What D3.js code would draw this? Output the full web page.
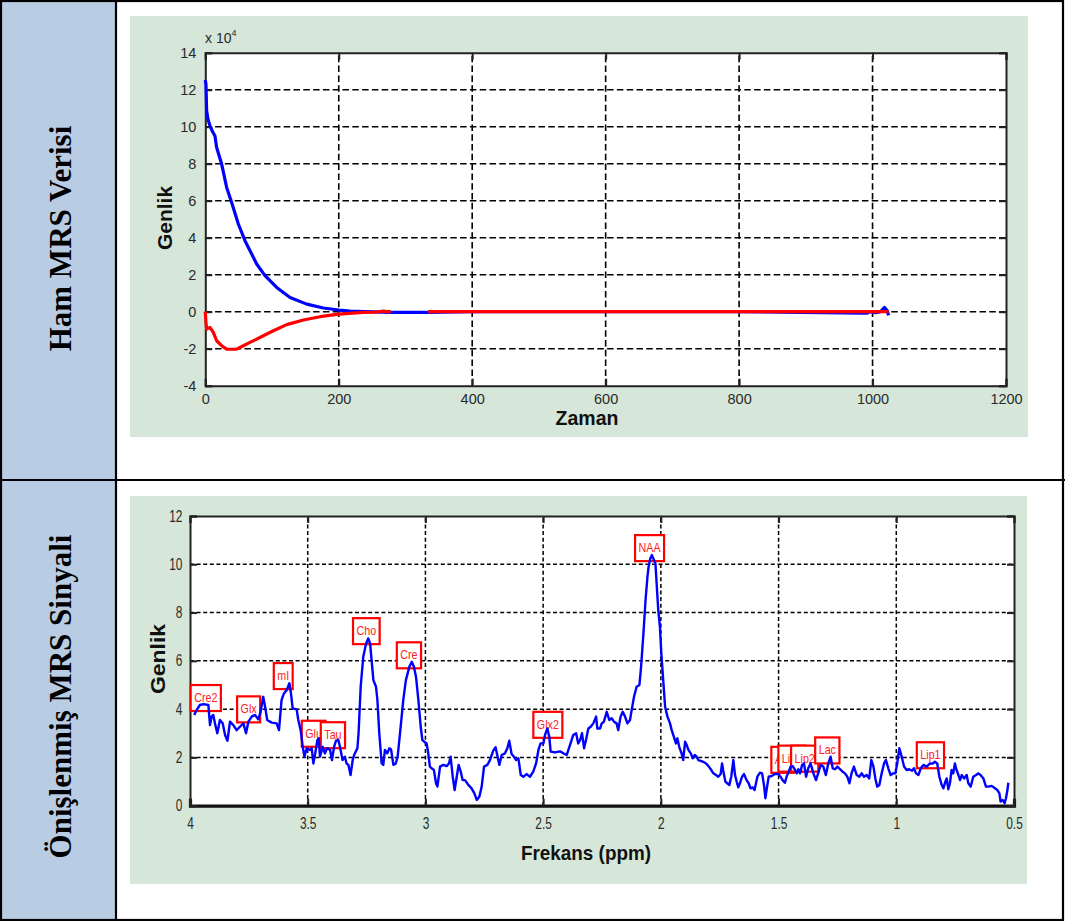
<!DOCTYPE html>
<html>
<head>
<meta charset="utf-8">
<script src="https://cdn.jsdelivr.net/npm/d3@7"></script>
<style>
  html, body { margin: 0; padding: 0; background: #ffffff; }
  svg { display: block; }
</style>
</head>
<body>
<svg id="fig" width="1065" height="921"></svg>
<script>
// ---------- Raw FID (time domain), amplitude in units of 10^4 ----------
const fidRealTime = [0, 1, 2, 4, 7, 10, 14.5, 17, 24.5, 32, 39.5, 49.5, 59.5, 77, 89.5, 107, 127, 152, 177, 200, 217, 240, 278, 334, 400, 600, 800, 985, 992, 995, 1005, 1012, 1018, 1022, 1024];
const fidRealAmp  = [12.52, 12.3, 10.86, 10.4, 10.05, 9.8, 9.5, 8.88, 7.98, 6.72, 5.9, 4.74, 3.84, 2.58, 1.95, 1.31, 0.77, 0.41, 0.2, 0.09, 0.03, 0.0, -0.04, -0.04, 0, 0, 0, -0.08, -0.08, 0, -0.05, 0, 0.23, 0.05, -0.2];
const fidImagTime = [0, 0.5, 1, 2, 4, 7, 12, 17, 24.5, 32, 40, 47, 57, 67, 87, 102, 122, 147, 172, 200, 237, 255, 262, 267, 272, 278, 300, 334, 500, 800, 1024];
const fidImagAmp  = [0, -0.3, -0.58, -0.94, -0.9, -0.85, -1.12, -1.57, -1.84, -2.02, -2.03, -2.02, -1.84, -1.66, -1.3, -1.03, -0.7, -0.45, -0.27, -0.13, -0.04, -0.02, 0, 0.03, 0, 0, null, 0, 0, 0, 0];
const timeTicks = [0, 200, 400, 600, 800, 1000, 1200];
const fidAmpTicks = [-4, -2, 0, 2, 4, 6, 8, 10, 12, 14];

// ---------- Preprocessed spectrum ----------
const specPpm = [3.982,3.972,3.958,3.943,3.922,3.915,3.908,3.901,3.894,3.884,3.873,3.861,3.851,3.841,3.830,3.816,3.802,3.788,3.773,3.762,3.752,3.738,3.724,3.710,3.700,3.689,3.681,3.672,3.653,3.632,3.622,3.611,3.601,3.589,3.578,3.571,3.564,3.547,3.540,3.530,3.521,3.514,3.504,3.490,3.483,3.476,3.468,3.459,3.453,3.448,3.436,3.427,3.417,3.405,3.397,3.388,3.380,3.370,3.363,3.352,3.342,3.335,3.327,3.318,3.309,3.303,3.289,3.284,3.275,3.264,3.252,3.243,3.235,3.228,3.221,3.210,3.204,3.196,3.186,3.179,3.172,3.162,3.153,3.146,3.136,3.126,3.118,3.108,3.094,3.083,3.068,3.058,3.049,3.040,3.030,3.020,3.013,3.005,2.995,2.988,2.981,2.974,2.964,2.955,2.949,2.938,2.924,2.910,2.900,2.893,2.884,2.876,2.867,2.859,2.850,2.842,2.832,2.818,2.804,2.792,2.782,2.771,2.761,2.751,2.737,2.726,2.712,2.702,2.695,2.686,2.676,2.662,2.652,2.644,2.634,2.624,2.615,2.605,2.595,2.584,2.570,2.556,2.542,2.530,2.520,2.511,2.499,2.492,2.482,2.474,2.468,2.450,2.428,2.414,2.400,2.386,2.372,2.360,2.351,2.343,2.335,2.326,2.318,2.308,2.298,2.287,2.275,2.270,2.258,2.251,2.242,2.230,2.219,2.209,2.199,2.188,2.181,2.171,2.162,2.152,2.142,2.131,2.124,2.114,2.103,2.091,2.084,2.074,2.065,2.057,2.052,2.045,2.038,2.029,2.023,2.018,2.011,2.004,1.998,1.989,1.982,1.972,1.961,1.954,1.944,1.936,1.930,1.922,1.912,1.905,1.897,1.890,1.883,1.873,1.865,1.856,1.848,1.841,1.831,1.820,1.808,1.798,1.788,1.777,1.766,1.756,1.746,1.740,1.735,1.726,1.718,1.709,1.701,1.692,1.685,1.678,1.671,1.664,1.655,1.647,1.636,1.627,1.619,1.610,1.602,1.590,1.579,1.570,1.562,1.556,1.551,1.542,1.529,1.515,1.501,1.491,1.483,1.473,1.466,1.457,1.449,1.440,1.430,1.423,1.416,1.409,1.400,1.392,1.383,1.374,1.364,1.352,1.341,1.331,1.321,1.310,1.299,1.289,1.279,1.270,1.260,1.250,1.239,1.228,1.218,1.208,1.199,1.190,1.180,1.168,1.157,1.147,1.137,1.126,1.115,1.106,1.097,1.089,1.081,1.072,1.062,1.052,1.044,1.034,1.024,1.013,1.004,0.996,0.987,0.977,0.967,0.956,0.945,0.933,0.925,0.916,0.906,0.896,0.885,0.871,0.857,0.845,0.836,0.826,0.817,0.807,0.800,0.793,0.786,0.779,0.772,0.765,0.758,0.751,0.744,0.736,0.729,0.722,0.712,0.701,0.694,0.684,0.673,0.661,0.652,0.642,0.630,0.619,0.609,0.595,0.581,0.571,0.562,0.557,0.548,0.540,0.534,0.528,0.524];
const specAmp = [3.76,3.96,4.17,4.21,4.17,3.34,3.69,3.76,3.41,3.00,3.55,3.41,2.93,2.69,3.48,3.34,3.13,3.27,3.41,3.00,3.48,3.69,3.76,3.58,3.89,4.51,4.10,3.55,3.44,3.41,3.13,4.38,4.65,4.79,5.07,4.65,4.03,3.99,3.55,3.13,2.44,2.03,2.38,2.31,2.38,1.75,2.17,2.72,2.79,2.03,2.44,2.17,2.38,2.31,1.89,2.44,2.69,2.72,2.44,1.89,2.03,1.75,1.69,1.27,1.89,2.10,2.38,3.00,4.93,6.17,6.72,6.93,6.72,5.96,5.20,4.93,4.38,3.00,1.75,1.69,2.31,2.17,2.38,2.33,1.69,1.75,2.03,3.00,4.38,5.20,5.76,5.96,5.76,5.34,4.38,3.27,2.72,2.65,2.58,2.17,1.62,1.55,1.48,0.93,0.79,1.62,1.69,1.64,1.75,2.03,1.20,0.65,1.20,1.69,1.41,1.06,1.06,0.86,0.72,0.51,0.24,0.37,0.79,1.62,1.69,1.89,2.28,2.42,2.10,1.69,2.10,2.17,2.38,2.69,2.14,2.03,1.89,1.96,1.27,1.20,1.31,1.20,1.41,1.75,2.31,2.58,2.58,2.93,3.20,2.86,2.24,2.21,2.25,2.17,2.10,2.51,2.93,3.00,2.58,2.72,3.00,2.38,2.72,3.20,3.27,3.41,3.69,3.20,3.20,3.41,3.48,3.89,3.55,3.62,3.48,3.41,3.13,3.69,3.89,3.69,3.41,3.55,3.96,4.51,4.93,5.00,5.76,7.14,8.52,9.48,9.90,10.24,10.38,10.17,10.03,9.21,8.10,7.41,6.31,5.07,4.10,3.69,3.41,3.13,2.83,2.58,2.79,2.44,2.17,1.89,2.65,2.51,2.31,2.17,1.96,2.10,2.03,1.89,1.86,1.82,1.75,1.64,1.51,1.34,1.27,1.20,1.31,1.75,1.45,1.00,0.93,0.86,1.20,1.89,1.27,1.00,0.76,0.93,1.20,1.31,1.06,0.93,0.72,0.76,0.65,1.20,1.37,1.34,0.86,0.31,0.65,1.20,1.23,1.31,1.31,1.20,1.06,0.95,1.20,1.41,1.62,1.64,1.48,1.34,1.51,1.34,1.69,1.75,1.20,1.55,1.75,1.34,1.06,1.37,1.69,1.62,1.27,1.75,2.03,1.55,1.51,1.62,1.51,1.41,1.34,1.20,0.93,1.34,1.62,1.27,1.20,1.34,1.20,1.27,1.13,1.89,1.62,1.13,0.79,0.86,1.34,1.75,1.89,1.55,1.27,1.34,1.34,1.75,2.38,2.03,1.62,1.48,1.51,1.45,1.55,1.34,1.27,1.55,1.69,1.62,1.75,1.75,1.82,1.75,1.20,0.86,0.72,0.95,1.13,0.68,0.93,1.48,1.34,1.75,1.48,1.27,1.06,1.27,1.13,1.27,0.93,0.79,1.20,1.27,1.34,1.27,1.13,0.79,0.79,0.82,0.72,0.65,0.51,0.17,0.24,0.10,0.31,0.65,0.95];
const ppmTicks = [4, 3.5, 3, 2.5, 2, 1.5, 1, 0.5];
const specAmpTicks = [0, 2, 4, 6, 8, 10, 12];

// Metabolite annotations (position = peak they mark)
const peakNames = ["Cre2", "Glx", "mI", "Glu", "Tau", "Cho", "Cre", "Glx2", "NAA", "Ala", "Lip3", "Lip2", "Lac", "Lip1"];
const peakPpm   = [3.933, 3.751, 3.604, 3.475, 3.393, 3.251, 3.070, 2.480, 2.048, 1.483, 1.443, 1.389, 1.293, 0.855];
const peakAmp   = [4.17, 3.70, 5.08, 2.69, 2.63, 6.94, 5.94, 3.06, 10.38, 1.61, 1.66, 1.66, 2.00, 1.80];

const rowTitles = ["Ham MRS Verisi", "Önişlenmiş MRS Sinyali"];

// ---------- Page layout ----------
const svg = d3.select("#fig");
const sans = "'Liberation Sans', Arial, Helvetica, sans-serif";

// Table: shaded title column and cell borders
svg.append("rect").attr("x", 0).attr("y", 0).attr("width", 116).attr("height", 921).attr("fill", "#b8cce4");
const border = svg.append("g").attr("stroke", "#000").attr("stroke-width", 2.2).attr("fill", "none");
border.append("rect").attr("x", 1).attr("y", 1).attr("width", 1062).attr("height", 919);
border.append("line").attr("x1", 116).attr("x2", 116).attr("y1", 0).attr("y2", 921);
border.append("line").attr("x1", 0).attr("x2", 1065).attr("y1", 480).attr("y2", 480);

// Rotated row titles
[[238.5, rowTitles[0]], [696.5, rowTitles[1]]].forEach(([cy, t]) => {
  svg.append("text")
    .attr("transform", `translate(71,${cy}) rotate(-90)`)
    .attr("text-anchor", "middle")
    .attr("font-family", "'Liberation Serif', 'Times New Roman', serif")
    .attr("font-weight", "bold")
    .attr("font-size", 31)
    .attr("fill", "#000")
    .text(t);
});

// Figure panels
svg.append("rect").attr("x", 130).attr("y", 16).attr("width", 898).attr("height", 421).attr("fill", "#d6e7d9");
svg.append("rect").attr("x", 130).attr("y", 496).attr("width", 897).attr("height", 388).attr("fill", "#d6e7d9");

// ---------- Helper for a boxed axes with inward ticks and dashed grid ----------
function drawAxes(g, x, y, xTicks, yTicks, opts) {
  const [x0, x1] = x.range();
  const [y0, y1] = y.range(); // y0 bottom, y1 top
  g.append("rect").attr("x", x0).attr("y", y1).attr("width", x1 - x0).attr("height", y0 - y1).attr("fill", "#fff");

  // dashed grid
  const grid = g.append("g").attr("stroke", "#000").attr("stroke-width", opts.gridWidth)
    .attr("stroke-dasharray", opts.dash).attr("fill", "none");
  xTicks.slice(1, -1).forEach(v => {
    grid.append("line").attr("x1", x(v)).attr("x2", x(v)).attr("y1", y0).attr("y2", y1);
  });
  yTicks.slice(1, -1).forEach(v => {
    grid.append("line").attr("x1", x0).attr("x2", x1).attr("y1", y(v)).attr("y2", y(v));
  });

  // axes with inward ticks on all four sides
  const tk = opts.tickLen;
  const bottom = g.append("g").attr("transform", `translate(0,${y0})`)
    .call(d3.axisBottom(x).tickValues(xTicks).tickSize(-tk).tickPadding(tk + opts.xPad).tickFormat(opts.xFmt));
  const left = g.append("g").attr("transform", `translate(${x0},0)`)
    .call(d3.axisLeft(y).tickValues(yTicks).tickSize(-tk).tickPadding(tk + opts.yPad).tickFormat(opts.yFmt));
  const top = g.append("g").attr("transform", `translate(0,${y1})`)
    .call(d3.axisTop(x).tickValues(xTicks).tickSize(-tk).tickFormat(""));
  const right = g.append("g").attr("transform", `translate(${x1},0)`)
    .call(d3.axisRight(y).tickValues(yTicks).tickSize(-tk).tickFormat(""));
  [bottom, left, top, right].forEach(a => {
    a.select(".domain").attr("stroke", "#222").attr("stroke-width", opts.frameWidth);
    a.selectAll(".tick line").attr("stroke", "#222").attr("stroke-width", opts.frameWidth);
    a.selectAll("text").attr("font-family", sans).attr("font-size", opts.tickFont).attr("fill", "#2a2a2a");
  });
  return { bottom, left };
}

// ---------- Panel 1: raw FID ----------
const x1 = d3.scaleLinear().domain([0, 1200]).range([205.3, 1006]);
const y1 = d3.scaleLinear().domain([-4, 14]).range([385.7, 52.7]);
const g1 = svg.append("g");
drawAxes(g1, x1, y1, timeTicks, fidAmpTicks, {
  gridWidth: 1.6, dash: "6.5,3.3", tickLen: 7, frameWidth: 2, tickFont: 14.5,
  xPad: 1, yPad: 2, xFmt: d => String(d), yFmt: d => String(d)
});

const fidReal = fidRealTime.map((t, i) => ({ t, v: fidRealAmp[i] }));
const fidImag = fidImagTime.map((t, i) => ({ t, v: fidImagAmp[i] }));
const fidLine = d3.line().defined(d => d.v !== null).x(d => x1(d.t)).y(d => y1(d.v));
g1.append("path").datum(fidReal).attr("d", fidLine)
  .attr("fill", "none").attr("stroke", "#0000ff").attr("stroke-width", 3.2).attr("stroke-linejoin", "round");
g1.append("path").datum(fidImag).attr("d", fidLine)
  .attr("fill", "none").attr("stroke", "#ff0000").attr("stroke-width", 3.2).attr("stroke-linejoin", "round");

// exponent marker
const expo = g1.append("text").attr("x", 205).attr("y", 43).attr("font-family", sans).attr("font-size", 14).attr("fill", "#2a2a2a");
expo.append("tspan").text("x 10");
expo.append("tspan").attr("dy", -7).attr("font-size", 9).text("4");

g1.append("text").attr("x", 587).attr("y", 425).attr("text-anchor", "middle")
  .attr("font-family", sans).attr("font-weight", "bold").attr("font-size", 19.5).attr("fill", "#111").text("Zaman");
g1.append("text").attr("transform", `translate(171.5,218) rotate(-90)`).attr("text-anchor", "middle")
  .attr("font-family", sans).attr("font-weight", "bold").attr("font-size", 21).attr("fill", "#111").text("Genlik");

// ---------- Panel 2: spectrum ----------
const x2 = d3.scaleLinear().domain([4, 0.5]).range([190, 1014]);
const y2 = d3.scaleLinear().domain([0, 12]).range([805.7, 516]);
const g2 = svg.append("g");
const ax2 = drawAxes(g2, x2, y2, ppmTicks, specAmpTicks, {
  gridWidth: 1.5, dash: "4,2.6", tickLen: 7, frameWidth: 2, tickFont: 14,
  xPad: 4, yPad: 2, xFmt: d => String(d), yFmt: d => String(d)
});
ax2.bottom.select(".domain").attr("stroke-width", 3.2).attr("stroke", "#111");
// condensed tick labels
[ax2.bottom, ax2.left].forEach(a => a.selectAll(".tick text").attr("transform", "scale(0.85,1.12)"));

// metabolite labels: white boxes, each later box covering the one before it
const labG = g2.append("g");
peakNames.forEach((name, i) => {
  const px = x2(peakPpm[i]), py = y2(peakAmp[i]);
  const lg = labG.append("g").attr("transform", `translate(${px},${py})`);
  const txt = lg.append("text").attr("text-anchor", "middle").attr("y", 0)
    .attr("transform", "translate(0,-3) scale(1,1.25)")
    .attr("font-family", sans).attr("font-size", 10.7).attr("fill", "#ff2020").text(name);
  const w = txt.node().getComputedTextLength() + 7;
  lg.insert("rect", "text").attr("x", -w / 2).attr("y", -20).attr("width", w).attr("height", 26)
    .attr("fill", "#fff").attr("stroke", "#ff0000").attr("stroke-width", 2.2);
});

// spectrum drawn over the label boxes so each marked peak stays visible
const spec = specPpm.map((p, i) => ({ p, a: specAmp[i] }));
g2.append("path").datum(spec)
  .attr("d", d3.line().x(d => x2(d.p)).y(d => y2(d.a)))
  .attr("fill", "none").attr("stroke", "#0000ff").attr("stroke-width", 2.4).attr("stroke-linejoin", "round");

g2.append("text").attr("x", 586).attr("y", 860).attr("text-anchor", "middle")
  .attr("font-family", sans).attr("font-weight", "bold").attr("font-size", 21)
  .attr("textLength", 130).attr("lengthAdjust", "spacingAndGlyphs").attr("fill", "#111").text("Frekans (ppm)");
g2.append("text").attr("transform", `translate(165,659) rotate(-90)`).attr("text-anchor", "middle")
  .attr("font-family", sans).attr("font-weight", "bold").attr("font-size", 21)
  .attr("textLength", 70).attr("lengthAdjust", "spacingAndGlyphs").attr("fill", "#111").text("Genlik");
</script>
</body>
</html>
